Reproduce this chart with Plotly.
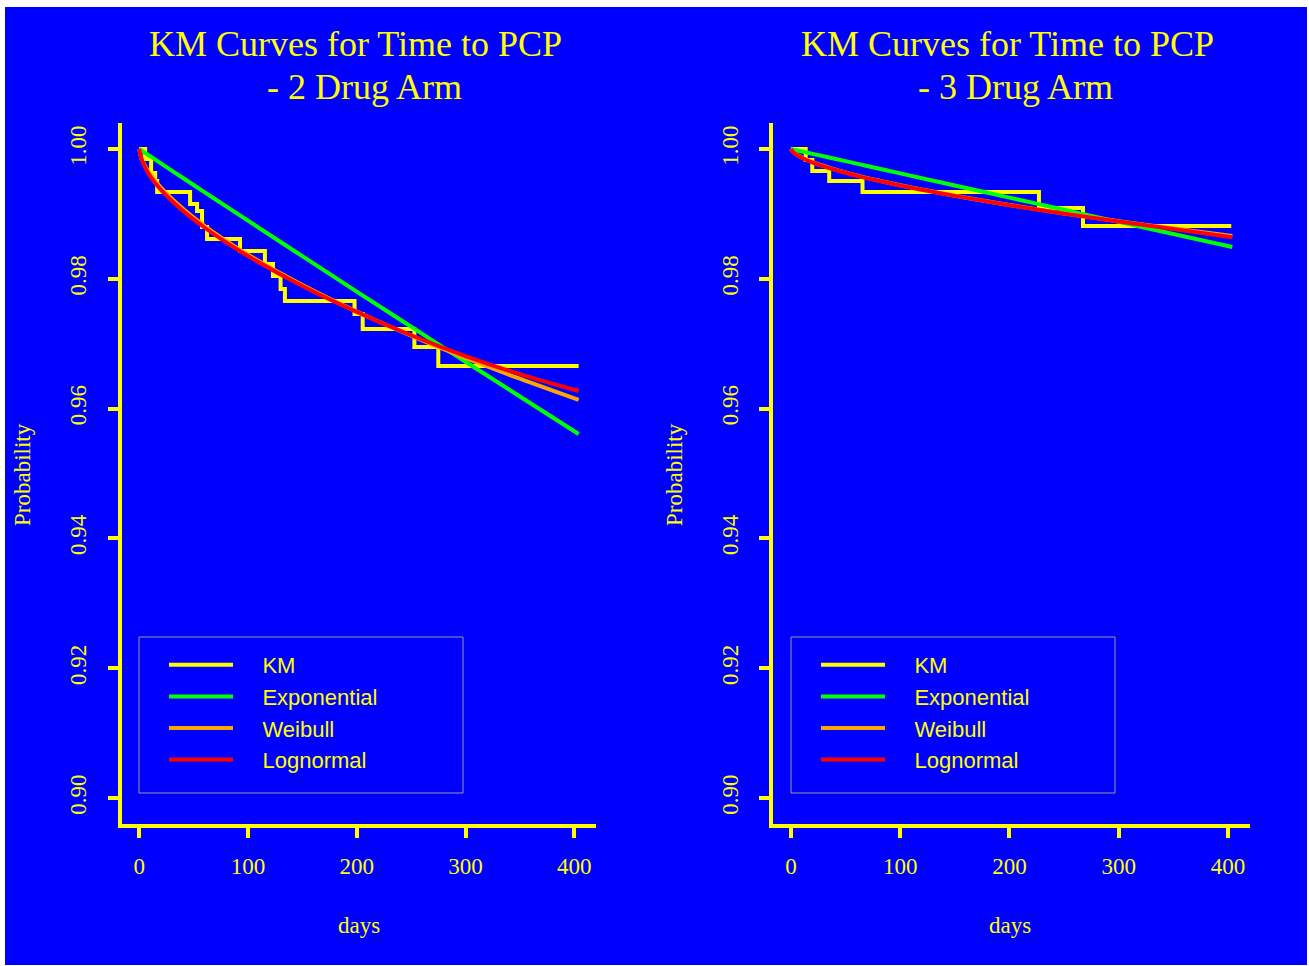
import plotly.graph_objects as go

# ---------------- data ----------------
km_days_2 = [0, 5.5, 11, 14.7, 16.5, 46.8, 53.2, 57.8, 62.4, 92.7, 115.6, 123, 130, 134, 198, 205.5, 253, 275, 404]
km_surv_2 = [1.0, 0.99846, 0.99630, 0.99507, 0.99337, 0.99153, 0.99045, 0.98798, 0.98613, 0.98428,
             0.98228, 0.98043, 0.97843, 0.97658, 0.97458, 0.97227, 0.96949, 0.96656, 0.96656]

km_days_3 = [0, 13.5, 19.5, 35, 65.5, 227, 267.3, 403]
km_surv_3 = [1.0, 0.99830, 0.99661, 0.99507, 0.99337, 0.99091, 0.98814, 0.98814]

fit_days = [0, 2, 5, 10, 20, 40, 60, 80, 100, 150, 200, 250, 300, 350, 404]

exp_2 = [1.0, 0.99978, 0.99944, 0.99889, 0.99778, 0.99556, 0.99336, 0.99115, 0.98895, 0.98348,
         0.97802, 0.97262, 0.96722, 0.96187, 0.95609]
weib_2 = [1.0, 0.99859, 0.99750, 0.99614, 0.99405, 0.99081, 0.98816, 0.98584, 0.98372, 0.97905,
          0.97496, 0.97124, 0.96781, 0.96460, 0.96133]
lnorm_2 = [1.0, 0.99850, 0.99730, 0.99580, 0.99370, 0.99050, 0.98790, 0.98560, 0.98350, 0.97890,
           0.97490, 0.97130, 0.96810, 0.96530, 0.96271]

exp_3 = [1.0, 0.99992, 0.99981, 0.99962, 0.99925, 0.99850, 0.99774, 0.99699, 0.99624, 0.99437,
         0.99250, 0.99063, 0.98876, 0.98691, 0.98490]
weib_3 = [1.0, 0.99952, 0.99915, 0.99868, 0.99796, 0.99685, 0.99594, 0.99513, 0.99440, 0.99279,
          0.99136, 0.99007, 0.98887, 0.98775, 0.98660]
lnorm_3 = [1.0, 0.99950, 0.99910, 0.99862, 0.99790, 0.99680, 0.99590, 0.99510, 0.99437, 0.99277,
           0.99134, 0.99004, 0.98882, 0.98767, 0.98640]

series_names = ["KM", "Exponential", "Weibull", "Lognormal"]
panel_titles = [("KM Curves for Time to PCP", "- 2 Drug Arm"), ("KM Curves for Time to PCP", "- 3 Drug Arm")]
x_ticks = [0, 100, 200, 300, 400]
y_ticks = [0.90, 0.92, 0.94, 0.96, 0.98, 1.00]

# ---------------- styling ----------------
BLUE = "#0000FF"
YELLOW = "#FFFF00"
COLORS = {"KM": "#FFFF00", "Exponential": "#00FF00", "Weibull": "#FFA500", "Lognormal": "#FF0000"}
SERIF = "Liberation Serif, Times New Roman, serif"
SANS = "Liberation Sans, Arial, sans-serif"
W, H = 1302, 958
OX, OY = 5, 7
PAD = "\u00a0" * 4  # gap between legend line sample and its label


def px(x):
    return (x - OX) / W


def py(y):
    return 1 - (y - OY) / H


fig = go.Figure()

panels = [
    dict(km=(km_days_2, km_surv_2), fits=[exp_2, weib_2, lnorm_2], xa="x", ya="y", leg="legend"),
    dict(km=(km_days_3, km_surv_3), fits=[exp_3, weib_3, lnorm_3], xa="x2", ya="y2", leg="legend2"),
]

for p in panels:
    fig.add_trace(go.Scatter(x=p["km"][0], y=p["km"][1], mode="lines", name=PAD + "KM",
                             line=dict(color=COLORS["KM"], width=4, shape="hv"),
                             xaxis=p["xa"], yaxis=p["ya"], legend=p["leg"]))
    for nm, vals in zip(series_names[1:], p["fits"]):
        fig.add_trace(go.Scatter(x=fit_days, y=vals, mode="lines", name=PAD + nm,
                                 line=dict(color=COLORS[nm], width=4, shape="spline"),
                                 xaxis=p["xa"], yaxis=p["ya"], legend=p["leg"]))

axis_common = dict(showline=True, linecolor=YELLOW, linewidth=4, mirror=False,
                   ticks="outside", ticklen=10, tickwidth=4, tickcolor=YELLOW,
                   showgrid=False, zeroline=False,
                   tickfont=dict(family=SERIF, size=23, color=YELLOW))

xdoms = [[px(121.6), px(596.2)], [px(773.3), px(1250)]]
ydom = [py(824), py(123)]

layout_axes = {}
for i, xd in enumerate(xdoms):
    sfx = "" if i == 0 else "2"
    layout_axes["xaxis" + sfx] = dict(axis_common, domain=xd, range=[-16.16, 420.16],
                                      tickvals=x_ticks, anchor="y" + sfx, ticklabelstandoff=8)
    layout_axes["yaxis" + sfx] = dict(axis_common, domain=ydom, range=[0.896, 1.004],
                                      tickvals=y_ticks, tickformat=".2f", tickangle=-90,
                                      anchor="x" + sfx, ticklabelstandoff=12)

annotations = []
title_centers = [((355, 364), 360), ((1007, 1015), 1011)]
for (lines, ((c1, c2), cx)) in zip(panel_titles, title_centers):
    annotations.append(dict(text=lines[0], x=px(c1), y=py(44), xref="paper", yref="paper",
                            xanchor="center", yanchor="middle", showarrow=False,
                            font=dict(family=SERIF, size=36, color=YELLOW)))
    annotations.append(dict(text=lines[1], x=px(c2), y=py(87), xref="paper", yref="paper",
                            xanchor="center", yanchor="middle", showarrow=False,
                            font=dict(family=SERIF, size=36, color=YELLOW)))
    annotations.append(dict(text="days", x=px(cx - 1), y=py(925), xref="paper", yref="paper",
                            xanchor="center", yanchor="middle", showarrow=False,
                            font=dict(family=SERIF, size=23, color=YELLOW)))

for ax_x in (22, 674):
    annotations.append(dict(text="Probability", x=px(ax_x), y=py(475), xref="paper", yref="paper",
                            xanchor="center", yanchor="middle", showarrow=False, textangle=-90,
                            font=dict(family=SERIF, size=23, color=YELLOW)))

shapes = []
for bx in (139, 791):
    shapes.append(dict(type="rect", xref="paper", yref="paper",
                       x0=px(bx), x1=px(bx + 324), y0=py(793), y1=py(637),
                       line=dict(color="#9a9a9a", width=1), fillcolor="rgba(0,0,0,0)"))

legend_common = dict(bgcolor="rgba(0,0,0,0)", borderwidth=0, itemwidth=64,
                     font=dict(family=SANS, size=22, color=YELLOW),
                     xanchor="left", yanchor="top", tracegroupgap=0)

fig.update_layout(
    width=W, height=H,
    margin=dict(l=0, r=0, t=0, b=0),
    paper_bgcolor=BLUE, plot_bgcolor=BLUE,
    showlegend=True,
    legend=dict(legend_common, x=px(164), y=py(644)),
    legend2=dict(legend_common, x=px(816), y=py(644)),
    annotations=annotations,
    shapes=shapes,
    **layout_axes,
)

fig.write_html("out.html", post_script="document.body.style.margin='7px 0 0 5px';")
